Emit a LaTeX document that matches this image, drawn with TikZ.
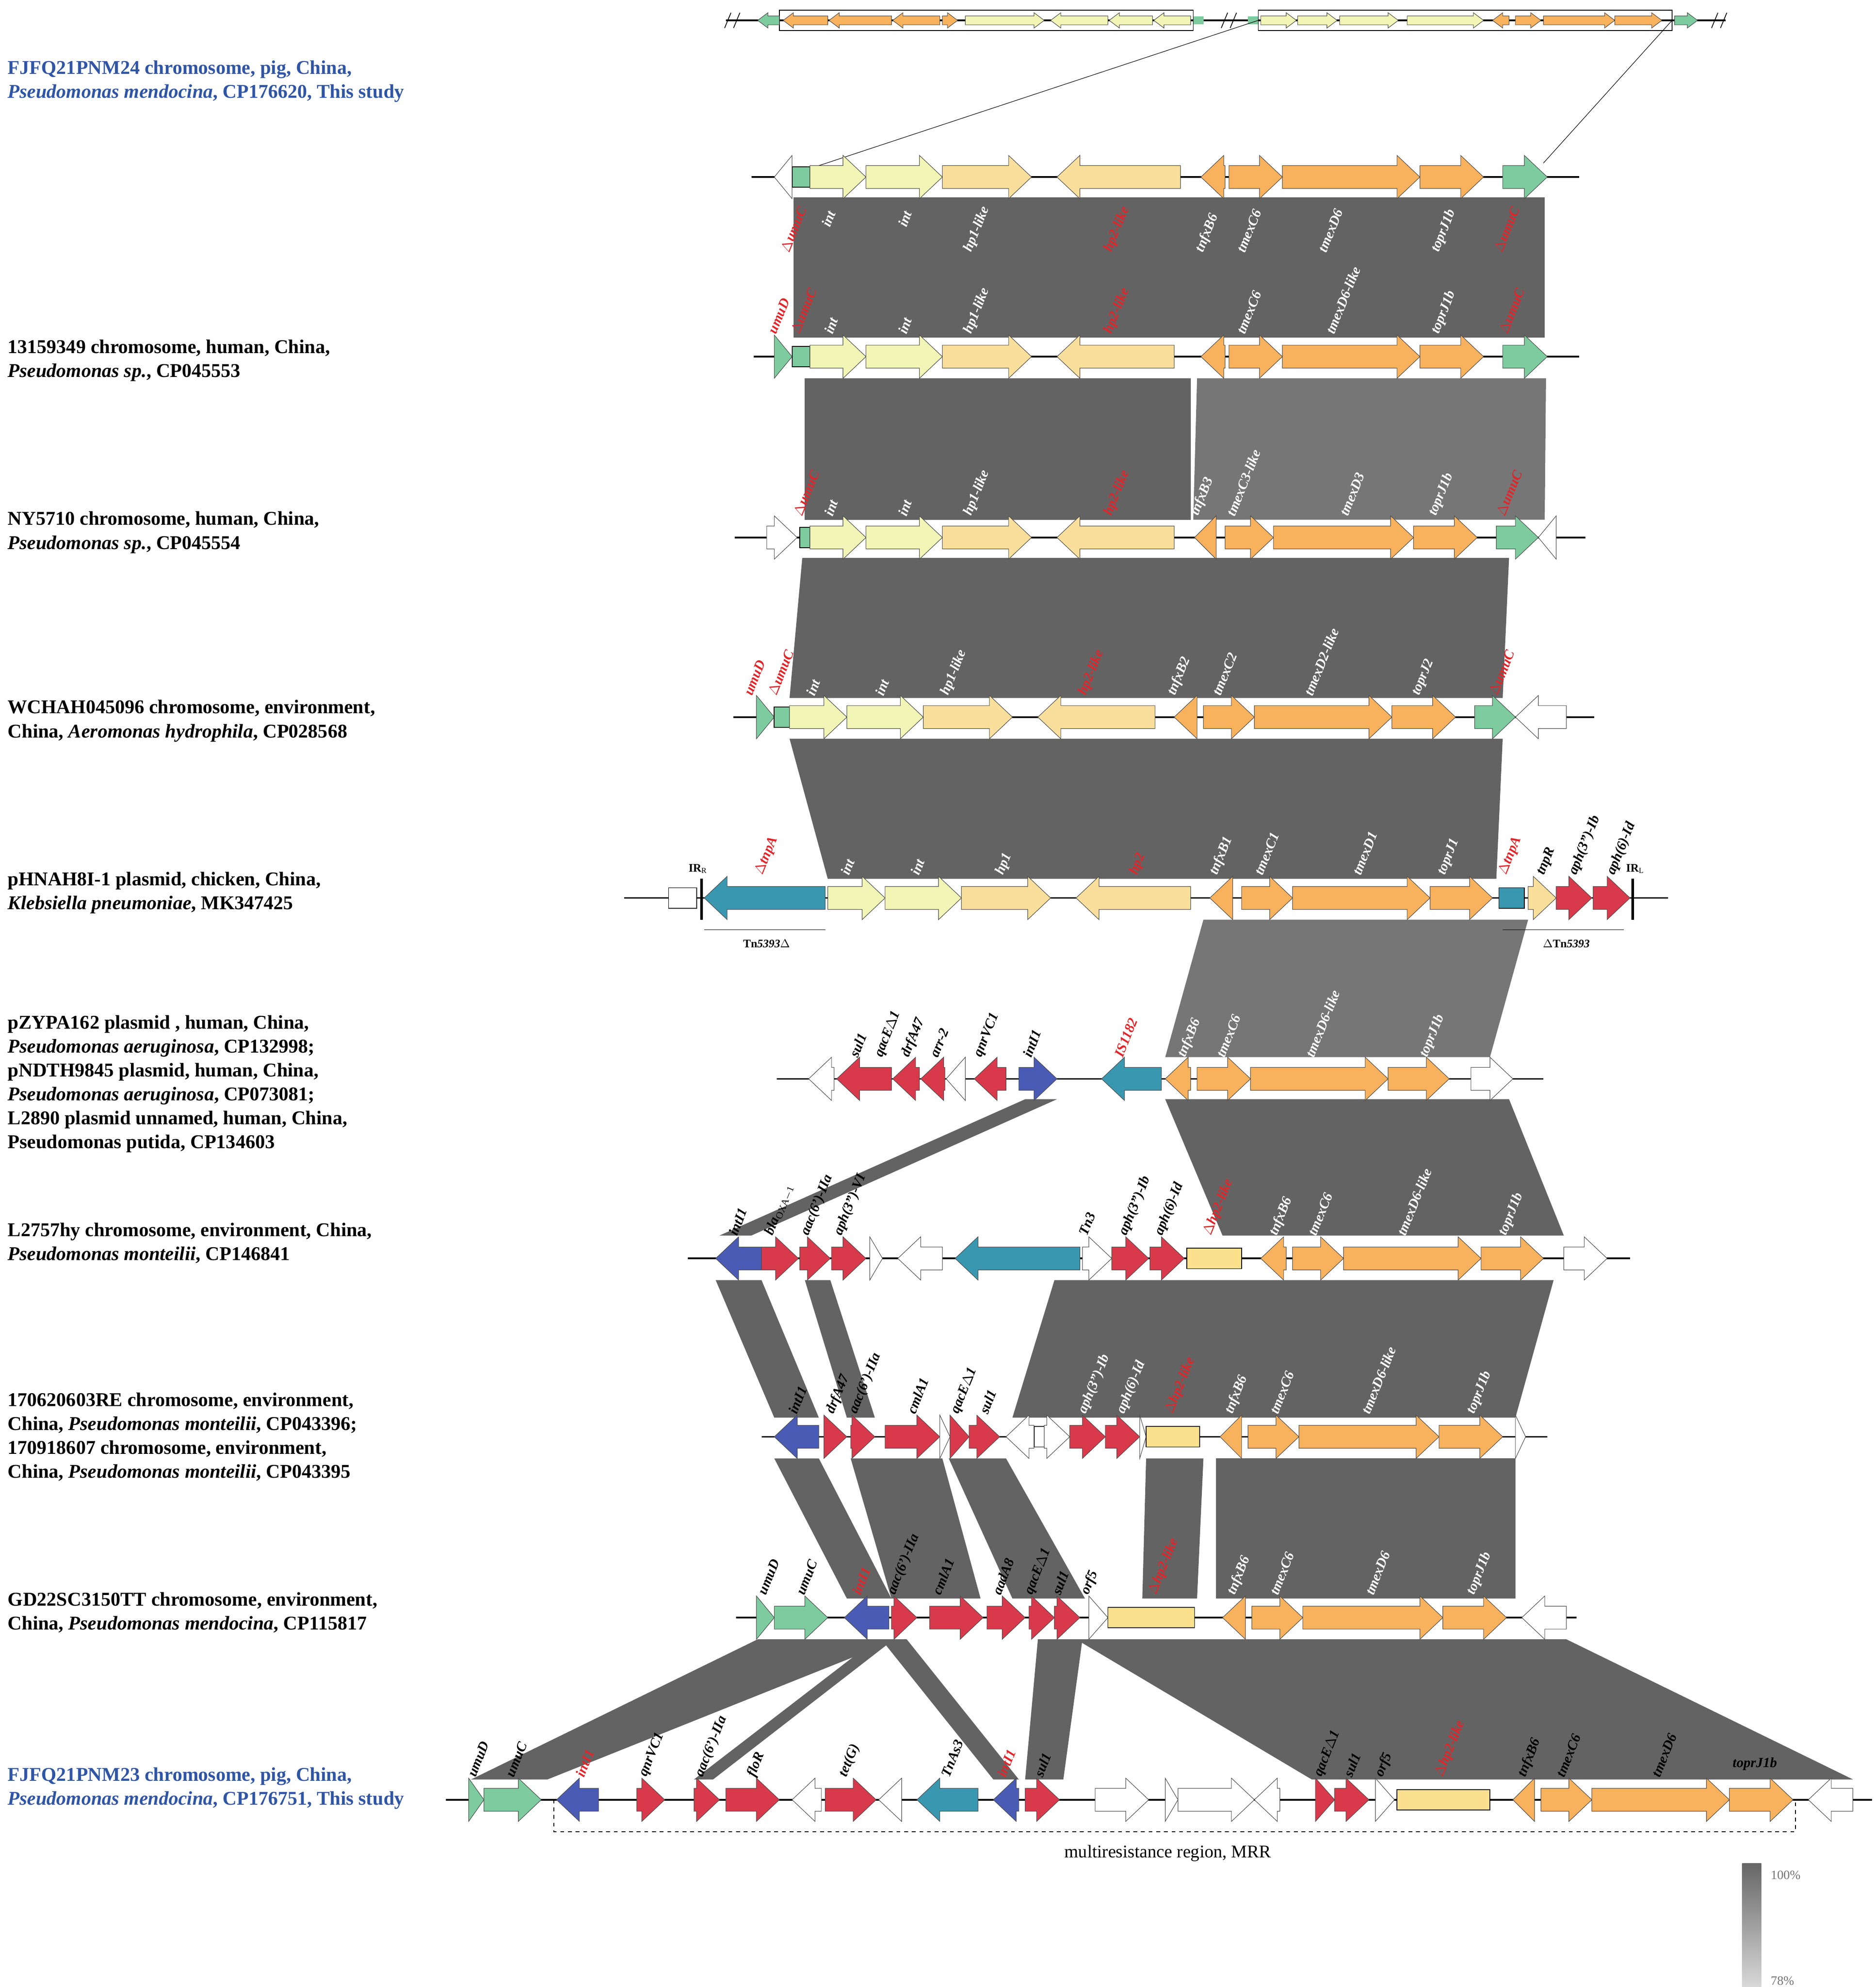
\documentclass[tikz,border=0pt]{standalone}
\usepackage{fontspec}
\setmainfont{Liberation Serif}
\definecolor{cy}{HTML}{F1F5B5}
\definecolor{ch}{HTML}{FADF9C}
\definecolor{co}{HTML}{F8B15C}
\definecolor{cg}{HTML}{7DCB9E}
\definecolor{cr}{HTML}{D8394B}
\definecolor{cb}{HTML}{4A5BB5}
\definecolor{ct}{HTML}{3A97B0}
\definecolor{cbx}{HTML}{FBE08E}
\definecolor{bd}{HTML}{636363}
\definecolor{bl}{HTML}{767676}
\definecolor{lb}{HTML}{2F55A5}
\definecolor{lr}{HTML}{E0262B}
\newcommand\gen[7]{\pgfmathsetmacro\hd{#2-sign(#2-#1)*min(abs(#2-#1),#7)}%
\filldraw[fill=#4,draw=black!70,line width=0.4] (#1,#3-#5)--(\hd,#3-#5)--(\hd,#3-#6)--(#2,#3)--(\hd,#3+#6)--(\hd,#3+#5)--(#1,#3+#5)--cycle;}
\newcommand\g[4]{\gen{#1}{#2}{#3}{#4}{9}{17}{18}}
\newcommand\gs[4]{\gen{#1}{#2}{#3}{#4}{3.5}{6}{8}}
\newcommand\bx[4]{\filldraw[fill=#4,draw=black,line width=0.6] (#1,#3-8) rectangle (#2,#3+8);}
\newcommand\bline[3]{\draw[line width=1.3] (#1,#3)--(#2,#3);}
\newcommand\band[7]{\fill[#7] (#1,#3)--(#2,#3)--(#5,#6)--(#4,#6)--cycle;}
\tikzset{gl/.style={rotate=68,anchor=west,inner sep=0.5pt,font=\fontsize{11}{11}\selectfont\bfseries\itshape},
lab/.style={anchor=west,align=left,inner sep=0,font=\fontsize{15.3}{18.8}\selectfont\bfseries}}
\newcommand\gl[4][black]{\node[gl,text=#1] at (#2,#3) {#4};}
\begin{document}
\begin{tikzpicture}[x=1pt,y=-1pt]
\useasboundingbox (0,0) rectangle (1473,1560);
% ---------- bands ----------
\band{623}{1213}{155}{623}{1213}{265}{bd}
\band{632}{935}{297}{632}{935}{408}{bd}
\band{940}{1214}{297}{937}{1213}{408}{bl}
\band{630}{1185}{438}{620}{1180}{548}{bd}
\band{620}{1180}{580}{650}{1175}{690}{bd}
\band{945}{1200}{722}{915}{1170}{830}{bl}
\band{915}{1185}{863}{960}{1228}{970}{bd}
\fill[bd] (805,863)--(830,863)--(590,970)--(565,970)--cycle;
\band{562}{598}{1005}{608}{643}{1113}{bd}
\band{632}{652}{1005}{665}{687}{1113}{bd}
\band{828}{1220}{1005}{795}{1190}{1113}{bd}
\band{608}{643}{1145}{665}{700}{1255}{bd}
\band{668}{740}{1145}{700}{770}{1255}{bd}
\band{745}{790}{1145}{795}{852}{1255}{bd}
\band{900}{945}{1145}{897}{940}{1255}{bd}
\band{955}{1190}{1145}{955}{1190}{1255}{bd}
\band{595}{705}{1287}{370}{430}{1397}{bd}
\fill[bd] (688,1287)--(702,1287)--(560,1397)--(545,1397)--cycle;
\fill[bd] (692,1287)--(712,1287)--(800,1397)--(780,1397)--cycle;
\band{815}{850}{1287}{805}{835}{1397}{bd}
\band{845}{1230}{1287}{1030}{1455}{1397}{bd}
% ---------- row 0 overview ----------
\bline{570}{1355}{16}
\foreach \xx in {575,965,1350}{\draw[line width=0.6] (\xx-6,22)--(\xx-1,10) (\xx+1,22)--(\xx+6,10);}
\draw[line width=0.5] (612,8) rectangle (937,24) (988,8) rectangle (1313,24);
\gs{612}{595}{16}{cg}\gs{650}{615}{16}{co}\gs{700}{651}{16}{co}\gs{738}{701}{16}{co}\gs{740}{752}{16}{co}
\gs{758}{820}{16}{cy}\gs{870}{825}{16}{cy}\gs{905}{871}{16}{cy}\gs{935}{906}{16}{cy}
\fill[cg] (937,13) rectangle (945,19); \fill[cg] (980,13) rectangle (988,19);
\gs{990}{1018}{16}{cy}\gs{1019}{1050}{16}{cy}\gs{1052}{1098}{16}{cy}\gs{1105}{1165}{16}{cy}
\gs{1185}{1172}{16}{co}\gs{1190}{1210}{16}{co}\gs{1212}{1268}{16}{co}\gs{1268}{1305}{16}{co}\gs{1315}{1333}{16}{cg}
\draw[line width=0.4] (988,16)--(628,135) (1313,16)--(1212,128);
% ---------- left labels ----------
\node[lab,text=lb] at (6,64) {FJFQ21PNM24 chromosome, pig, China,\\\textit{Pseudomonas mendocina}, CP176620, This study};
\node[lab] at (6,283) {13159349 chromosome, human, China,\\\textit{Pseudomonas sp.}, CP045553};
\node[lab] at (6,418) {NY5710 chromosome, human, China,\\\textit{Pseudomonas sp.}, CP045554};
\node[lab] at (6,566) {WCHAH045096 chromosome, environment,\\China, \textit{Aeromonas hydrophila}, CP028568};
\node[lab] at (6,701) {pHNAH8I-1 plasmid, chicken, China,\\\textit{Klebsiella pneumoniae}, MK347425};
\node[lab] at (6,851) {pZYPA162 plasmid , human, China,\\\textit{Pseudomonas aeruginosa}, CP132998;\\pNDTH9845 plasmid, human, China,\\\textit{Pseudomonas aeruginosa}, CP073081;\\L2890 plasmid unnamed, human, China,\\Pseudomonas putida, CP134603};
\node[lab] at (6,976) {L2757hy chromosome, environment, China,\\\textit{Pseudomonas monteilii}, CP146841};
\node[lab] at (6,1128) {170620603RE chromosome, environment,\\China, \textit{Pseudomonas monteilii}, CP043396;\\170918607 chromosome, environment,\\China, \textit{Pseudomonas monteilii}, CP043395};
\node[lab] at (6,1266) {GD22SC3150TT chromosome, environment,\\China, \textit{Pseudomonas mendocina}, CP115817};
\node[lab,text=lb] at (6,1404) {FJFQ21PNM23 chromosome, pig, China,\\\textit{Pseudomonas mendocina}, CP176751, This study};
% ---------- row 1 ----------
\bline{590}{1240}{139}
\g{622}{608}{139}{white}\bx{622}{636}{139}{cg}
\g{636}{680}{139}{cy}\g{680}{740}{139}{cy}\g{740}{810}{139}{ch}\g{927}{830}{139}{ch}
\g{962}{943}{139}{co}\g{965}{1007}{139}{co}\g{1007}{1115}{139}{co}\g{1115}{1165}{139}{co}\g{1180}{1215}{139}{cg}
\gl[lr]{616}{198}{$\Delta$umuC}\gl[white]{648}{178}{int}\gl[white]{708}{178}{int}\gl[white]{760}{198}{hp1-like}
\gl[lr]{870}{198}{hp2-like}\gl[white]{942}{198}{tnfxB6}\gl[white]{974}{198}{tmexC6}\gl[white]{1038}{198}{tmexD6}
\gl[white]{1127}{198}{toprJ1b}\gl[lr]{1176}{198}{$\Delta$umuC}
% ---------- row 2 ----------
\bline{592}{1240}{280}
\g{608}{622}{280}{cg}\bx{622}{636}{280}{cg}
\g{636}{680}{280}{cy}\g{680}{740}{280}{cy}\g{740}{810}{280}{ch}\g{922}{830}{280}{ch}
\g{962}{943}{280}{co}\g{965}{1007}{280}{co}\g{1007}{1115}{280}{co}\g{1115}{1165}{280}{co}\g{1180}{1215}{280}{cg}
\gl[lr]{606}{262}{umuD}\gl[lr]{624}{262}{$\Delta$umuC}\gl[white]{650}{262}{int}\gl[white]{708}{262}{int}\gl[white]{760}{262}{hp1-like}
\gl[lr]{870}{262}{hp2-like}\gl[white]{974}{262}{tmexC6}\gl[white]{1044}{262}{tmexD6-like}
\gl[white]{1127}{262}{toprJ1b}\gl[lr]{1180}{262}{$\Delta$umuC}
% ---------- row 3 ----------
\bline{577}{1245}{422}
\g{602}{626}{422}{white}\bx{628}{636}{422}{cg}
\g{636}{680}{422}{cy}\g{680}{740}{422}{cy}\g{740}{810}{422}{ch}\g{922}{830}{422}{ch}
\g{955}{938}{422}{co}\g{962}{1000}{422}{co}\g{1000}{1110}{422}{co}\g{1110}{1160}{422}{co}\g{1175}{1208}{422}{cg}\g{1222}{1208}{422}{white}
\gl[lr]{626}{405}{$\Delta$umuC}\gl[white]{650}{405}{int}\gl[white]{708}{405}{int}\gl[white]{760}{405}{hp1-like}
\gl[lr]{870}{405}{hp2-like}\gl[white]{938}{405}{tnfxB3}\gl[white]{966}{405}{tmexC3-like}\gl[white]{1055}{405}{tmexD3}
\gl[white]{1125}{405}{toprJ1b}\gl[lr]{1178}{405}{$\Delta$umuC}
% ---------- row 4 ----------
\bline{576}{1252}{563}
\g{594}{608}{563}{cg}\bx{608}{620}{563}{cg}
\g{620}{665}{563}{cy}\g{665}{725}{563}{cy}\g{725}{795}{563}{ch}\g{907}{815}{563}{ch}
\g{940}{922}{563}{co}\g{945}{985}{563}{co}\g{985}{1093}{563}{co}\g{1093}{1143}{563}{co}\g{1158}{1190}{563}{cg}\g{1230}{1190}{563}{white}
\gl[lr]{587}{546}{umuD}\gl[lr]{606}{546}{$\Delta$umuC}\gl[white]{636}{546}{int}\gl[white]{690}{546}{int}\gl[white]{742}{546}{hp1-like}
\gl[lr]{850}{546}{hp2-like}\gl[white]{920}{546}{tnfxB2}\gl[white]{955}{546}{tmexC2}\gl[white]{1027}{546}{tmexD2-like}
\gl[white]{1112}{546}{toprJ2}\gl[lr]{1172}{546}{$\Delta$umuC}
% ---------- row 5 ----------
\bline{490}{1310}{705}
\draw[line width=0.6,fill=white] (525,697) rectangle (547,713);
\draw[line width=2.2] (551,690)--(551,722); \draw[line width=2.2] (1282,690)--(1282,722);
\g{648}{553}{705}{ct}
\g{650}{695}{705}{cy}\g{695}{755}{705}{cy}\g{755}{825}{705}{ch}\g{935}{845}{705}{ch}
\g{968}{950}{705}{co}\g{975}{1015}{705}{co}\g{1015}{1123}{705}{co}\g{1123}{1172}{705}{co}
\bx{1177}{1197}{705}{ct}\g{1200}{1222}{705}{ch}\g{1222}{1250}{705}{cr}\g{1251}{1280}{705}{cr}
\node[font=\fontsize{9}{9}\selectfont\bfseries] at (548,682) {IR$_\mathrm{R}$};
\node[font=\fontsize{9}{9}\selectfont\bfseries] at (1284,682) {IR$_\mathrm{L}$};
\draw[line width=0.5] (553,730)--(648,730) (1180,730)--(1275,730);
\node[font=\fontsize{9}{9}\selectfont\bfseries] at (602,741) {Tn\textit{5393}$\Delta$};
\node[font=\fontsize{9}{9}\selectfont\bfseries] at (1230,741) {$\Delta$Tn\textit{5393}};
\gl[lr]{596}{687}{$\Delta$tnpA}\gl[white]{663}{687}{int}\gl[white]{718}{687}{int}\gl[white]{785}{687}{hp1}
\gl[lr]{890}{687}{hp2}\gl[white]{953}{687}{tnfxB1}\gl[white]{988}{687}{tmexC1}\gl[white]{1065}{687}{tmexD1}
\gl[white]{1132}{687}{toprJ1}\gl[lr]{1180}{687}{$\Delta$tnpA}\gl{1210}{687}{tnpR}\gl{1235}{687}{aph(3'')-Ib}\gl{1265}{687}{aph(6)-Id}
% ---------- row 6 ----------
\bline{610}{1212}{847}
\g{655}{635}{847}{white}\g{700}{657}{847}{cr}\g{722}{701}{847}{cr}\g{742}{723}{847}{cr}\g{758}{743}{847}{white}
\g{790}{765}{847}{cr}\g{800}{830}{847}{cb}\g{912}{865}{847}{ct}
\g{935}{915}{847}{co}\g{940}{982}{847}{co}\g{982}{1090}{847}{co}\g{1090}{1138}{847}{co}\g{1155}{1188}{847}{white}
\gl{670}{830}{sul1}\gl{690}{830}{qacE$\Delta$1}\gl{711}{830}{drfA47}\gl{733}{830}{arr-2}\gl{768}{830}{qnrVC1}\gl{806}{830}{intI1}
\gl[lr]{878}{830}{IS1182}\gl[white]{928}{830}{tnfxB6}\gl[white]{958}{830}{tmexC6}\gl[white]{1028}{830}{tmexD6-like}\gl[white]{1118}{830}{toprJ1b}
% ---------- row 7 ----------
\bline{540}{1280}{988}
\g{598}{562}{988}{cb}\g{598}{627}{988}{cr}\g{628}{652}{988}{cr}\g{653}{680}{988}{cr}\g{683}{693}{988}{white}
\g{740}{705}{988}{white}\g{848}{750}{988}{ct}\g{850}{873}{988}{white}\g{873}{902}{988}{cr}\g{903}{930}{988}{cr}\bx{932}{975}{988}{cbx}
\g{1010}{990}{988}{co}\g{1015}{1055}{988}{co}\g{1055}{1163}{988}{co}\g{1163}{1212}{988}{co}\g{1228}{1262}{988}{white}
\gl{575}{970}{intI1}\gl{604}{970}{bla$_\mathrm{OXA-1}$}\gl{632}{970}{aac(6')-IIa}\gl{658}{970}{aph(3'')-VI}
\gl{850}{970}{Tn3}\gl{882}{970}{aph(3'')-Ib}\gl{910}{970}{aph(6)-Id}\gl[lr]{948}{970}{$\Delta$hp2-like}
\gl[white]{1000}{970}{tnfxB6}\gl[white]{1030}{970}{tmexC6}\gl[white]{1100}{970}{tmexD6-like}\gl[white]{1180}{970}{toprJ1b}
% ---------- row 8 ----------
\bline{598}{1215}{1128}
\g{643}{608}{1128}{cb}\g{647}{665}{1128}{cr}\g{668}{687}{1128}{cr}\g{695}{738}{1128}{cr}\g{738}{746}{1128}{white}\g{746}{761}{1128}{cr}\g{761}{785}{1128}{cr}
\g{812}{790}{1128}{white}\bx{812}{820}{1128}{white}\g{820}{840}{1128}{white}\g{840}{868}{1128}{cr}\g{868}{895}{1128}{cr}\g{895}{900}{1128}{white}\bx{900}{942}{1128}{cbx}
\g{975}{958}{1128}{co}\g{980}{1020}{1128}{co}\g{1020}{1130}{1128}{co}\g{1130}{1180}{1128}{co}\g{1190}{1198}{1128}{white}
\gl{622}{1110}{intI1}\gl{652}{1110}{drfA47}\gl{670}{1110}{aac(6')-IIa}\gl{715}{1110}{cmlA1}\gl{750}{1110}{qacE$\Delta$1}\gl{772}{1110}{sul1}
\gl[white]{850}{1110}{aph(3'')-Ib}\gl[white]{880}{1110}{aph(6)-Id}\gl[lr]{918}{1110}{$\Delta$hp2-like}
\gl[white]{965}{1110}{tnfxB6}\gl[white]{1000}{1110}{tmexC6}\gl[white]{1072}{1110}{tmexD6-like}\gl[white]{1155}{1110}{toprJ1b}
% ---------- row 9 ----------
\bline{578}{1238}{1270}
\g{594}{608}{1270}{cg}\g{608}{650}{1270}{cg}\g{698}{663}{1270}{cb}\g{700}{720}{1270}{cr}\g{730}{772}{1270}{cr}\g{775}{805}{1270}{cr}\g{808}{828}{1270}{cr}\g{828}{848}{1270}{cr}
\g{855}{870}{1270}{white}\bx{870}{938}{1270}{cbx}
\g{978}{960}{1270}{co}\g{983}{1023}{1270}{co}\g{1023}{1133}{1270}{co}\g{1133}{1183}{1270}{co}\g{1230}{1195}{1270}{white}
\gl{598}{1252}{umuD}\gl{628}{1252}{umuC}\gl[lr]{672}{1252}{intI1}\gl{700}{1252}{aac(6')-IIa}\gl{735}{1252}{cmlA1}\gl{782}{1252}{aadA8}\gl{808}{1252}{qacE$\Delta$1}\gl{829}{1252}{sul1}\gl{852}{1252}{orf5}
\gl[lr]{905}{1252}{$\Delta$hp2-like}\gl[white]{967}{1252}{tnfxB6}\gl[white]{1000}{1252}{tmexC6}\gl[white]{1075}{1252}{tmexD6}\gl[white]{1155}{1252}{toprJ1b}
% ---------- row 10 ----------
\bline{350}{1470}{1413}
\draw[dashed,line width=0.6] (435,1413)--(435,1438)--(1410,1438)--(1410,1413);
\node[font=\fontsize{14}{14}\selectfont] at (917,1455) {multiresistance region, MRR};
\g{368}{380}{1413}{cg}\g{380}{425}{1413}{cg}\g{470}{437}{1413}{cb}\g{500}{522}{1413}{cr}\g{545}{565}{1413}{cr}\g{570}{612}{1413}{cr}
\g{645}{622}{1413}{white}\g{648}{688}{1413}{cr}\g{708}{690}{1413}{white}\g{768}{720}{1413}{ct}\g{800}{780}{1413}{cb}\g{805}{832}{1413}{cr}
\g{860}{902}{1413}{white}\g{915}{925}{1413}{white}\g{925}{985}{1413}{white}\g{1005}{985}{1413}{white}\g{1033}{1048}{1413}{cr}\g{1048}{1075}{1413}{cr}\g{1080}{1095}{1413}{white}\bx{1097}{1170}{1413}{cbx}
\g{1205}{1188}{1413}{co}\g{1210}{1250}{1413}{co}\g{1250}{1358}{1413}{co}\g{1358}{1408}{1413}{co}\g{1455}{1420}{1413}{white}
\gl{370}{1395}{umuD}\gl{400}{1395}{umuC}\gl[lr]{455}{1395}{intI1}\gl{505}{1395}{qnrVC1}\gl{549}{1395}{aac(6')-IIa}\gl{590}{1395}{floR}
\gl{662}{1395}{tet(G)}\gl{742}{1395}{TnAs3}\gl[lr]{786}{1395}{intI1}\gl{815}{1395}{sul1}
\gl{1035}{1395}{qacE$\Delta$1}\gl{1058}{1395}{sul1}\gl{1083}{1395}{orf5}\gl[lr]{1130}{1395}{$\Delta$hp2-like}
\gl{1195}{1395}{tnfxB6}\gl{1225}{1395}{tmexC6}\gl{1300}{1395}{tmexD6}
\node[inner sep=0,font=\fontsize{11}{11}\selectfont\bfseries\itshape] at (1378,1385) {toprJ1b};
% ---------- legend ----------
\shade[top color=black!60,bottom color=black!15] (1368,1463) rectangle (1383,1560);
\node[font=\fontsize{10}{10}\selectfont,text=black!55,anchor=west] at (1387,1472) {100\%};
\node[font=\fontsize{10}{10}\selectfont,text=black!55,anchor=west] at (1387,1555) {78\%};
\end{tikzpicture}
\end{document}
